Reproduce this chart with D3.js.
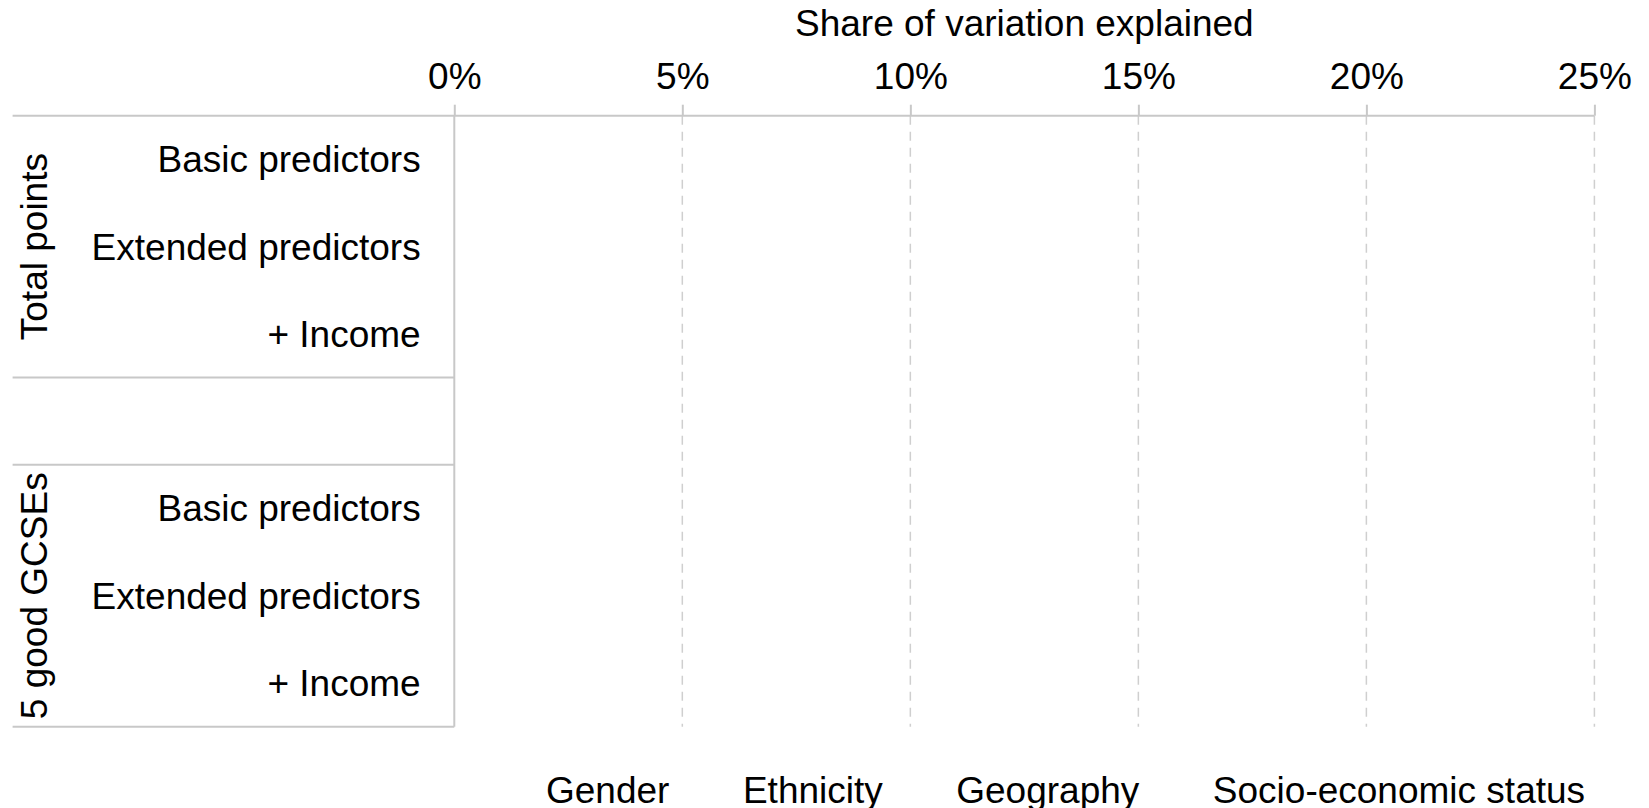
<!DOCTYPE html>
<html>
<head>
<meta charset="utf-8">
<script src="https://cdn.jsdelivr.net/npm/d3@7"></script>
<style>
  html, body { margin: 0; padding: 0; background: #fff; }
  svg { display: block; font-family: "Liberation Sans", Arial, sans-serif; }
  .grid line { stroke: #cfcfcf; stroke-width: 1.5; stroke-dasharray: 9,7; }
  .rule { stroke: #c8c8c8; stroke-width: 2; }
</style>
</head>
<body>
<svg id="chart" width="1649" height="808"></svg>
<script>
// groups and rows (a blank spacer row sits between the two groups)
var groups = ["Total points", "5 good GCSEs"];
var rows = ["Basic predictors", "Extended predictors", "+ Income"];
var series = ["Gender", "Ethnicity", "Geography", "Socio-economic status"];
var ticks = [0, 0.05, 0.10, 0.15, 0.20, 0.25];

// share of variation explained, per row (no bars visible in the picture)
var gender      = [0, 0, 0, 0, 0, 0];
var ethnicity   = [0, 0, 0, 0, 0, 0];
var geography   = [0, 0, 0, 0, 0, 0];
var socioEcon   = [0, 0, 0, 0, 0, 0];

var colors = ["#4c6eaf", "#e07b39", "#8faa4f", "#7a5195"];

var svg = d3.select("#chart");
var fs = 37;

var frameLeft = 12.6, plotLeft = 454.3, plotRight = 1594.4, plotTop = 115.7, plotBottom = 726.7;

// band keys: group|row, with a gap band between groups
var keys = [];
groups.forEach(function (g, gi) {
    if (gi > 0) keys.push("gap" + gi);
    rows.forEach(function (r, ri) { keys.push(gi + "|" + ri); });
});

var x = d3.scaleLinear().domain([0, 0.25]).range([plotLeft, plotRight]);
var y = d3.scaleBand().domain(keys).range([plotTop, plotBottom]).paddingInner(0).paddingOuter(0);

// data table
var table = [];
var cols = [gender, ethnicity, geography, socioEcon];
groups.forEach(function (g, gi) {
    rows.forEach(function (r, ri) {
        var d = { key: gi + "|" + ri, row: r };
        series.forEach(function (s, si) { d[s] = cols[si][gi * rows.length + ri]; });
        table.push(d);
    });
});
var stacked = d3.stack().keys(series)(table);

// dashed gridlines
svg.append("g").attr("class", "grid")
    .selectAll("line")
    .data(ticks.slice(1))
    .enter().append("line")
    .attr("x1", function (d) { return x(d); })
    .attr("x2", function (d) { return x(d); })
    .attr("y1", plotTop)
    .attr("y2", plotBottom);

// bars
svg.append("g").selectAll("g")
    .data(stacked)
    .enter().append("g")
    .attr("fill", function (d, i) { return colors[i]; })
    .selectAll("rect")
    .data(function (d) { return d; })
    .enter().append("rect")
    .attr("x", function (d) { return x(d[0]); })
    .attr("width", function (d) { return x(d[1]) - x(d[0]); })
    .attr("y", function (d) { return y(d.data.key) + y.bandwidth() * 0.2; })
    .attr("height", y.bandwidth() * 0.6);

// top axis
var xAxis = d3.axisTop(x)
    .tickValues(ticks)
    .tickFormat(d3.format(".0%"))
    .tickSize(11)
    .tickPadding(15.5);
var ax = svg.append("g").attr("transform", "translate(0," + plotTop + ")").call(xAxis);
ax.select(".domain").remove();
ax.selectAll(".tick line").attr("class", "rule").attr("stroke", null);
ax.selectAll(".tick text")
    .attr("font-size", fs)
    .attr("font-family", "Liberation Sans, Arial, sans-serif")
    .attr("fill", "#000");

// axis title
svg.append("text")
    .attr("x", (plotLeft + plotRight) / 2)
    .attr("y", 36)
    .attr("text-anchor", "middle")
    .attr("font-size", fs)
    .text("Share of variation explained");

// frame rules
svg.append("line").attr("class", "rule")
    .attr("x1", frameLeft).attr("x2", plotRight).attr("y1", plotTop).attr("y2", plotTop);
svg.append("line").attr("class", "rule")
    .attr("x1", plotLeft).attr("x2", plotLeft).attr("y1", plotTop).attr("y2", plotBottom);

var groupEdges = [];
groups.forEach(function (g, gi) {
    var first = y(gi + "|0"), last = y(gi + "|" + (rows.length - 1)) + y.bandwidth();
    groupEdges.push({ name: g, y0: first, y1: last });
});
svg.append("g").selectAll("line")
    .data(groupEdges)
    .enter().append("line").attr("class", "rule")
    .attr("x1", frameLeft).attr("x2", plotLeft)
    .attr("y1", function (d) { return d.y1; })
    .attr("y2", function (d) { return d.y1; });
svg.append("g").selectAll("line")
    .data(groupEdges.slice(1))
    .enter().append("line").attr("class", "rule")
    .attr("x1", frameLeft).attr("x2", plotLeft)
    .attr("y1", function (d) { return d.y0; })
    .attr("y2", function (d) { return d.y0; });

// row labels
svg.append("g").selectAll("text")
    .data(table)
    .enter().append("text")
    .attr("x", 420.7)
    .attr("y", function (d) { return y(d.key) + y.bandwidth() / 2; })
    .attr("dy", "0.35em")
    .attr("text-anchor", "end")
    .attr("font-size", fs)
    .text(function (d) { return d.row; });

// group labels
svg.append("g").selectAll("text")
    .data(groupEdges)
    .enter().append("text")
    .attr("transform", function (d) { return "translate(47," + (d.y0 + d.y1) / 2 + ") rotate(-90)"; })
    .attr("text-anchor", "middle")
    .attr("font-size", fs)
    .text(function (d) { return d.name; });

// legend
var legend = svg.append("g");
var lx = 546;
series.forEach(function (s, i) {
    var t = legend.append("text")
        .attr("x", lx)
        .attr("y", 803)
        .attr("font-size", fs)
        .text(s);
    lx += t.node().getComputedTextLength() + 73.5;
});
</script>
</body>
</html>
